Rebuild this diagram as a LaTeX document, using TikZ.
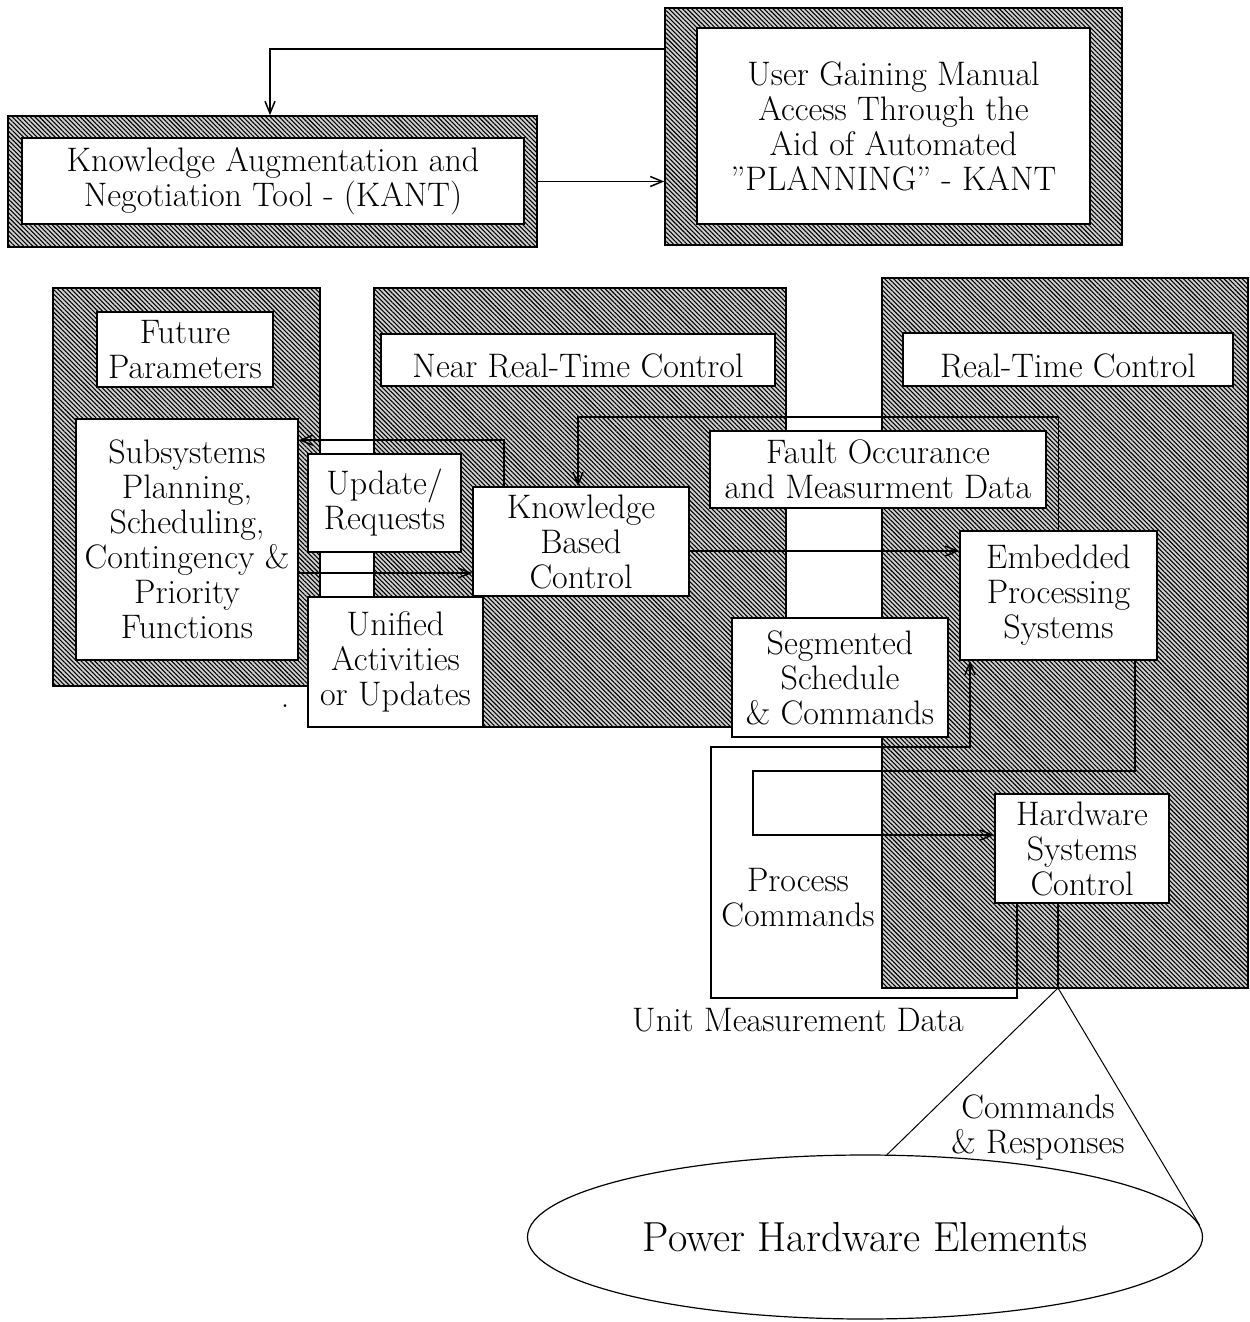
\documentclass[tikz,border=0pt]{standalone}
\usetikzlibrary{arrows.meta,shapes.geometric,patterns.meta}
\begin{document}
\begin{tikzpicture}[x=0.5pt,y=-0.5pt,
  box/.style n args={4}{minimum width={(#3-#1)*0.5pt}, minimum height={(#4-#2)*0.5pt},
    at={({(#1+#3)/2},{(#2+#4)/2})}},
  txt/.style={font=\fontsize{17}{17.5}\selectfont, align=center},
  wbox/.style={txt, draw, line width=0.8pt, fill=white, inner sep=0pt},
  lowtext/.style={text height=17.8pt, text depth=0pt},
  shd/.style={draw, line width=0.8pt, fill=black!18, inner sep=0pt,
    postaction={pattern={Lines[angle=-45,distance=1.6pt,line width=0.55pt]}, pattern color=black}},
  conn/.style={line width=0.75pt},
  arr/.style={conn, -{Straight Barb[length=6pt,width=5pt]}}]
\useasboundingbox (0,0) rectangle (1249,1322);

% planning tool and user access
\node[shd, box={8}{116}{537}{247}] (kantbg) {};
\node[wbox, box={22}{138}{524}{224}] (kant) {Knowledge Augmentation and\\Negotiation Tool - (KANT)};
\node[shd, box={665}{8}{1122}{245}] (userbg) {};
\node[wbox, box={697}{28}{1090}{224}] (user) {User Gaining Manual\\Access Through the\\Aid of Automated\\''PLANNING'' - KANT};

% control levels
\node[shd, box={53}{288}{320}{686}] (futbg) {};
\node[shd, box={374}{288}{786}{727}] (nrtbg) {};
\node[shd, box={882}{278}{1248}{988}] (rtbg) {};

\node[wbox, box={97}{312}{273}{387}] (fut) {Future\\Parameters};
\node[wbox, box={76}{419}{298}{660}] (sub) {Subsystems\\Planning,\\Scheduling,\\Contingency \&\\Priority\\Functions};
\node[wbox, lowtext, box={381}{334}{775}{386}] (nrt) {Near Real-Time Control};
\node[wbox, lowtext, box={903}{333}{1233}{386}] (rt) {Real-Time Control};
\node[wbox, box={308}{454}{461}{552}] (upd) {Update/\\Requests};
\node[wbox, box={308}{597}{483}{727}] (uni) {Unified\\Activities\\or Updates};
\node[wbox, box={473}{487}{689}{596}] (kbc) {Knowledge\\Based\\Control};
\node[wbox, box={710}{431}{1046}{508}] (fault) {Fault Occurance\\and Measurment Data};
\node[wbox, box={960}{531}{1157}{660}] (eps) {Embedded\\Processing\\Systems};
\node[wbox, box={732}{618}{948}{737}] (seg) {Segmented\\Schedule\\\& Commands};
\node[wbox, box={995}{794}{1169}{903}] (hsc) {Hardware\\Systems\\Control};

\node[ellipse, draw, line width=0.6pt, minimum width=337.5pt, minimum height=82pt, inner sep=0pt,
  font=\fontsize{21}{24}\selectfont] (phe) at (865,1237) {Power Hardware Elements};

% free labels
\node[txt] (pclab) at (798,898) {Process\\Commands};
\node[txt] (umdlab) at (798,1020) {Unit Measurement Data};
\node[txt] (crlab) at (1038,1127) {Commands\\\& Responses};
\node[txt] (dot) at (285,706) {.};

% waypoints
\coordinate (fb) at ([yshift=6.5pt]fault.north);
\coordinate (kbcin) at ([xshift=-1.5pt]kbc.north);
\coordinate (pcL) at (711,998);
\coordinate (pcT) at (711,747);
\coordinate (pc1) at (753,771);
\coordinate (apex) at (1058,988);

% connectors
\draw[arr] ([yshift=-21pt]userbg.north west) -| ([xshift=-1.25pt]kantbg.north);
\draw[arr] (kantbg.east) -- (kantbg.east -| userbg.west);

\draw[arr] ([xshift=-38.5pt]kbc.north) |- ([yshift=-11pt]sub.north east);
\draw[arr] ([yshift=-16.75pt]sub.east) -- ([yshift=-16.75pt]sub.east -| kbc.west);
\draw[arr] ([yshift=-4.75pt]kbc.east) -- ([yshift=-4.75pt]kbc.east -| eps.west);
\draw[arr] (eps.north) |- (fb -| kbcin) -- (kbcin);

\draw[arr] ([xshift=-32.5pt]hsc.south) |- (pcL) -- (pcT) -| ([xshift=-44.25pt]eps.south);
\draw[arr] ([xshift=38.25pt]eps.south) |- (pc1) |- ([yshift=6.75pt]hsc.west);

\draw[conn] ([xshift=-12pt]hsc.south) -- (apex);
\draw[line width=0.5pt] (phe.75) -- (apex) -- (phe.2);
\end{tikzpicture}
\end{document}
